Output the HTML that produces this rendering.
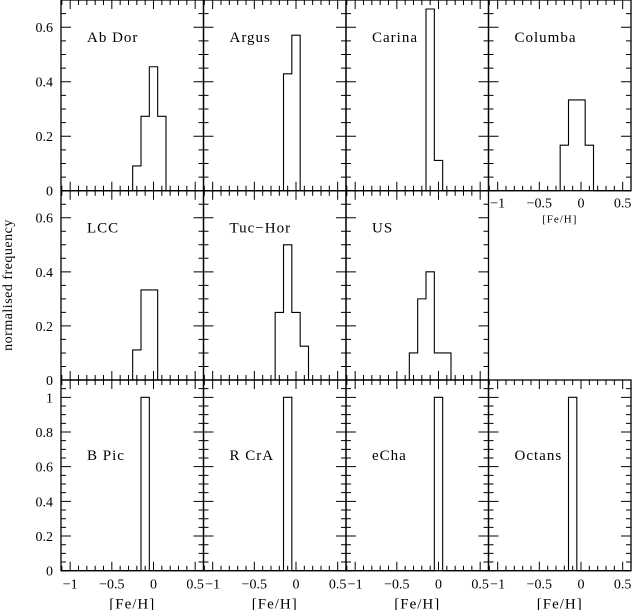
<!DOCTYPE html>
<html><head><meta charset="utf-8"><style>
html,body{margin:0;padding:0;background:#fff;}
svg{display:block;font-family:"Liberation Serif",serif;}
</style></head><body>
<svg id="fig" width="633" height="610" viewBox="0 0 633 610" xmlns="http://www.w3.org/2000/svg">
<text x="0" y="0" transform="translate(12,285) rotate(-90)" text-anchor="middle" font-size="14" letter-spacing="0.5">normalised frequency</text>
</svg>
<script>
const groupNames = ["Ab Dor","Argus","Carina","Columba","LCC","Tuc−Hor","US","B Pic","R CrA","eCha","Octans"];
const groupRow = [0,0,0,0,1,1,1,2,2,2,2];
const groupCol = [0,1,2,3,0,1,2,0,1,2,3];
const binStarts = [-0.25,-0.15,-0.15,-0.25,-0.25,-0.25,-0.35,-0.15,-0.15,-0.05,-0.15];
const binValues = [
  [0.091,0.273,0.455,0.273],
  [0.429,0.571],
  [0.667,0.111],
  [0.167,0.333,0.333,0.167],
  [0.111,0.333,0.333],
  [0.25,0.5,0.25,0.125],
  [0.1,0.3,0.4,0.1,0.1],
  [1],[1],[1],[1]
];
const binWidth = 0.1;
const xTickLabels = ["−1","−0.5","0","0.5"];
const xTickValues = [-1,-0.5,0,0.5];
const yTicksTop = [0,0.2,0.4,0.6];
const yTicksBottom = [0,0.2,0.4,0.6,0.8,1];

const svg = document.getElementById('fig');
const NS = 'http://www.w3.org/2000/svg';
const colX = [61,203.5,346,488.5,631];
const rowY = [[0,190.7],[190.7,380],[380,570.7]];
const xMin=-1.11, xMax=0.6;
function mk(tag, attrs){const e=document.createElementNS(NS,tag);for(const k in attrs)e.setAttribute(k,attrs[k]);svg.appendChild(e);return e;}
function xs(c,v){return colX[c]+(v-xMin)/(xMax-xMin)*(colX[c+1]-colX[c]);}
function ys(r,v){const ymax=r===2?1.1:0.7;return rowY[r][1]-v/ymax*(rowY[r][1]-rowY[r][0]);}

for(let g=0; g<groupNames.length; g++){
  const r=groupRow[g], c=groupCol[g];
  const L=colX[c], R=colX[c+1], T=rowY[r][0], B=rowY[r][1];
  const ymax=r===2?1.1:0.7;
  const frame=mk('rect',{x:L,y:T,width:R-L,height:B-T,fill:'none',stroke:'#000','stroke-width':1.3});
  
  
  let tk='';
  for(let i=0;i<=17;i++){
    const v=-1.1+i*0.1; const x=xs(c,v); const maj=Math.abs(Math.round(v*2)-v*2)<1e-6;
    const l=maj?9:5;
    tk+=`M${x},${B}v${-l}M${x},${T}v${l}`;
  }
  for(let v=0; v<=ymax+1e-6; v+=0.05){
    const y=ys(r,v); const maj=Math.abs(Math.round(v*5)-v*5)<1e-6;
    const l=maj?10:5;
    tk+=`M${L},${y}h${l}M${R},${y}h${-l}`;
  }
  const ticks=mk('path',{d:tk,stroke:'#000','stroke-width':1,fill:'none'});
  
  
  const vals=binValues[g]; let d='';
  let x0=xs(c,binStarts[g]);
  d+=`M${L},${B}H${x0}`;
  for(let i=0;i<vals.length;i++){
    const xb=xs(c,binStarts[g]+(i+1)*binWidth);
    d+=`V${ys(r,vals[i])}H${xb}`;
  }
  d+=`V${B}H${R}`;
  const h=mk('path',{d:d,stroke:'#000','stroke-width':1.1,fill:'none'});
  
  
  const lbl=mk('text',{x:L+26,y:r===2?460:T+42,'font-size':15,'letter-spacing':1});
  lbl.textContent=groupNames[g];
  
  
  if(c===0){
    const yt=r===2?yTicksBottom:yTicksTop;
    for(const v of yt){
      const t=mk('text',{x:53,y:ys(r,v)+5,'text-anchor':'end','font-size':14});
      t.textContent=String(v);
      
      
    }
  }
  if(r===2 || g===3){
    const small=g===3;
    for(let i=0;i<xTickValues.length;i++){
      const t=mk('text',{x:xs(c,xTickValues[i]),y:B+(small?17:18),'text-anchor':'middle','font-size':14});
      t.textContent=xTickLabels[i];
      
      
    }
    const xt=mk('text',{x:(L+R)/2,y:B+(small?32:38),'text-anchor':'middle','font-size':small?11:15,'letter-spacing':1});
    xt.textContent='[Fe/H]';
    
    
  }
}
</script>
</body></html>
